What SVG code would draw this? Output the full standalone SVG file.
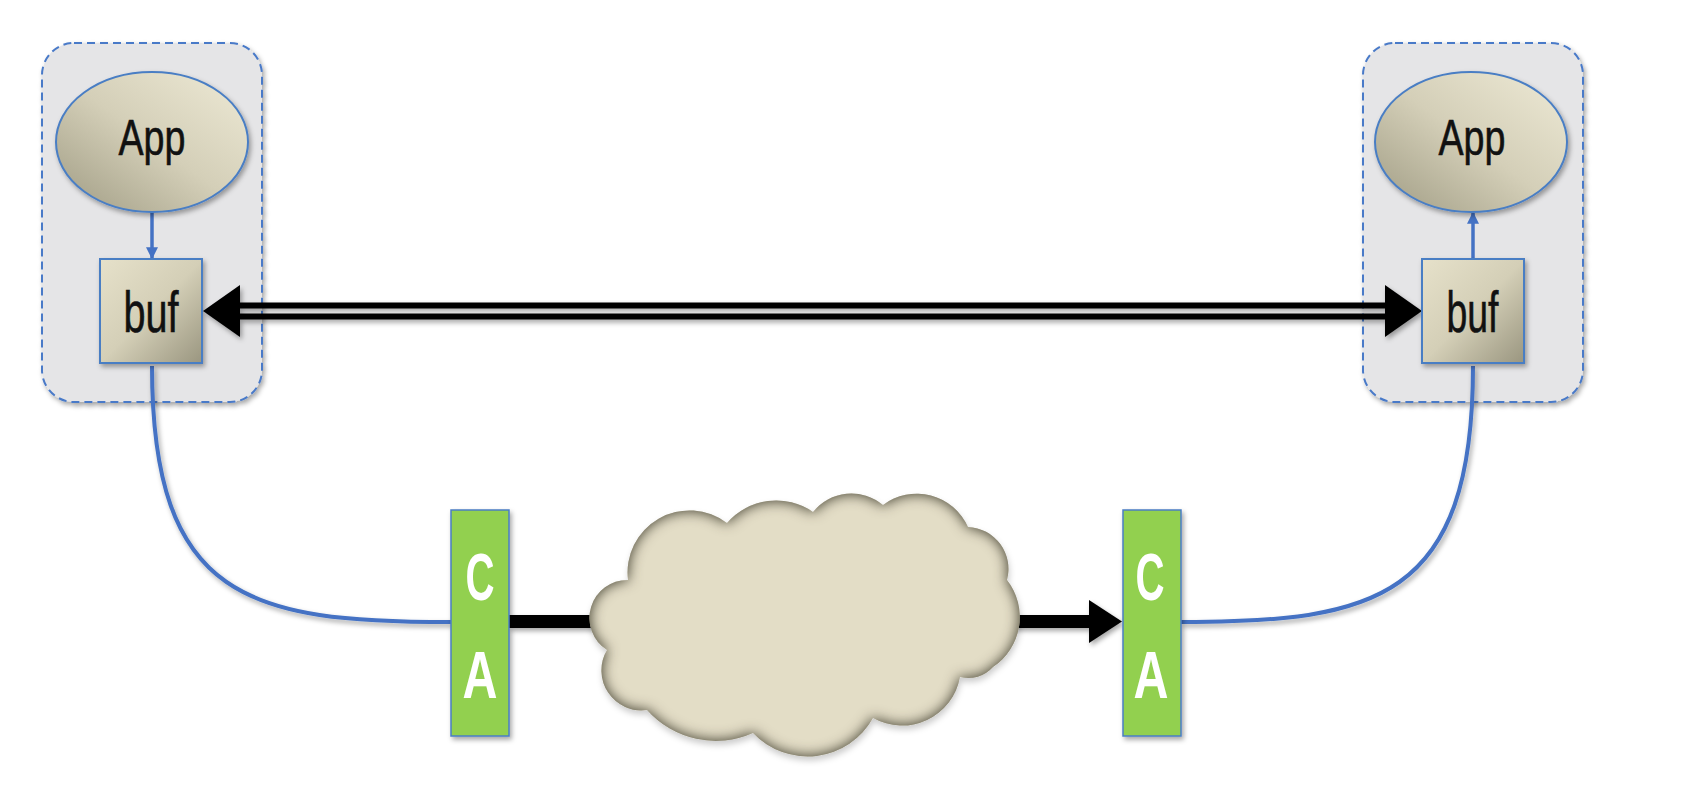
<svg xmlns="http://www.w3.org/2000/svg" width="1686" height="803" viewBox="0 0 1686 803">
<defs>
<style>
.cont{fill:#e5e5e7;stroke:#4a7ac8;stroke-width:2;stroke-dasharray:8 5;}
.node{stroke:#4a7ec4;stroke-width:2;}
.lbl{font-family:"Liberation Sans",Arial,sans-serif;fill:#111;stroke:#111;stroke-width:0.6;text-anchor:middle;}
.ca{fill:#92d050;stroke:#4a7ec4;stroke-width:1.5;}
.cal{font-family:"Liberation Sans",Arial,sans-serif;font-weight:bold;fill:#fff;text-anchor:middle;font-size:66px;}
.blue{fill:none;stroke:#4472c4;stroke-width:4;}
.thin{fill:none;stroke:#4472c4;stroke-width:3.5;}
</style>
<linearGradient id="gEll" x1="1" y1="0" x2="0" y2="1">
<stop offset="0" stop-color="#eeead6"/>
<stop offset="0.5" stop-color="#d4cfb8"/>
<stop offset="1" stop-color="#9f9b83"/>
</linearGradient>
<linearGradient id="gBuf" x1="0" y1="0" x2="1" y2="1">
<stop offset="0" stop-color="#e6e1ca"/>
<stop offset="0.5" stop-color="#d4cfb7"/>
<stop offset="1" stop-color="#9a9680"/>
</linearGradient>
<filter id="sh" x="-20%" y="-20%" width="150%" height="150%">
<feGaussianBlur in="SourceAlpha" stdDeviation="2.5"/>
<feOffset dx="2" dy="3" result="b"/>
<feFlood flood-color="#000" flood-opacity="0.35"/>
<feComposite in2="b" operator="in" result="s"/>
<feMerge><feMergeNode in="s"/><feMergeNode in="SourceGraphic"/></feMerge>
</filter>
<filter id="cloudF" x="-10%" y="-10%" width="120%" height="125%">
<feFlood flood-color="#5a5643" result="fl"/>
<feComposite in="fl" in2="SourceAlpha" operator="out" result="outside"/>
<feGaussianBlur in="outside" stdDeviation="7" result="bl"/>
<feComposite in="bl" in2="SourceAlpha" operator="in" result="inner"/>
<feGaussianBlur in="SourceAlpha" stdDeviation="3"/>
<feOffset dx="1" dy="4" result="ob"/>
<feFlood flood-color="#000" flood-opacity="0.2"/>
<feComposite in2="ob" operator="in" result="outer"/>
<feMerge><feMergeNode in="outer"/><feMergeNode in="SourceGraphic"/><feMergeNode in="inner"/><feMergeNode in="inner"/></feMerge>
</filter>
<marker id="mBlue" viewBox="0 0 10 10" refX="9" refY="5" markerUnits="userSpaceOnUse" markerWidth="12" markerHeight="14" orient="auto">
<path d="M0,0 L10,5 L0,10 z" fill="#4472c4"/>
</marker>
</defs>
<rect width="1686" height="803" fill="#ffffff"/>

<g id="host-left">
<rect class="cont" x="42" y="43" width="220" height="359" rx="32" filter="url(#sh)"/>
</g>
<g id="host-right">
<rect class="cont" x="1363" y="43" width="220" height="359" rx="32" filter="url(#sh)"/>
</g>

<g id="connectors">
<path class="thin" d="M152,212 L152,258" marker-end="url(#mBlue)"/>
<path class="thin" d="M1473,259 L1473,213" marker-end="url(#mBlue)"/>
<g filter="url(#sh)">
<line x1="232" y1="305.5" x2="1392" y2="305.5" stroke="#000" stroke-width="6"/>
<line x1="232" y1="316.5" x2="1392" y2="316.5" stroke="#000" stroke-width="6"/>
<path d="M203,311 L240,285 L240,337 z" fill="#000"/>
<path d="M1422,311 L1385,285 L1385,337 z" fill="#000"/>
</g>
<g filter="url(#sh)">
<path class="blue" d="M152,366 C152,600 250,622 451,622"/>
<path class="blue" d="M1473,366 C1473,600 1375,622 1181,622"/>
<line x1="509" y1="621.5" x2="600" y2="621.5" stroke="#000" stroke-width="13"/>
<line x1="1010" y1="621.5" x2="1092" y2="621.5" stroke="#000" stroke-width="13"/>
<path d="M1122,621.5 L1089,600 L1089,643 z" fill="#000"/>
</g>
</g>

<g id="app-left">
<ellipse class="node" cx="152" cy="142" rx="96" ry="70" fill="url(#gEll)" filter="url(#sh)"/>
<text class="lbl" x="152" y="155" font-size="50" textLength="67" lengthAdjust="spacingAndGlyphs">App</text>
</g>
<g id="buf-left">
<rect class="node" x="100" y="259" width="102" height="104" fill="url(#gBuf)" filter="url(#sh)"/>
<text class="lbl" x="151" y="332" font-size="57" textLength="55" lengthAdjust="spacingAndGlyphs">buf</text>
</g>
<g id="app-right">
<ellipse class="node" cx="1471" cy="142" rx="96" ry="70" fill="url(#gEll)" filter="url(#sh)"/>
<text class="lbl" x="1472" y="155" font-size="50" textLength="67" lengthAdjust="spacingAndGlyphs">App</text>
</g>
<g id="buf-right">
<rect class="node" x="1422" y="259" width="102" height="104" fill="url(#gBuf)" filter="url(#sh)"/>
<text class="lbl" x="1472.5" y="332" font-size="57" textLength="52" lengthAdjust="spacingAndGlyphs">buf</text>
</g>

<g id="ca-left">
<rect class="ca" x="451" y="510" width="58" height="226" filter="url(#sh)"/>
<text class="cal" x="480" y="600" textLength="29" lengthAdjust="spacingAndGlyphs">C</text>
<text class="cal" x="480" y="698" textLength="35" lengthAdjust="spacingAndGlyphs">A</text>
</g>
<g id="ca-right">
<rect class="ca" x="1123" y="510" width="58" height="226" filter="url(#sh)"/>
<text class="cal" x="1150" y="600" textLength="29" lengthAdjust="spacingAndGlyphs">C</text>
<text class="cal" x="1151" y="698" textLength="35" lengthAdjust="spacingAndGlyphs">A</text>
</g>

<g id="cloud">
<path fill="#e3ddc6" filter="url(#cloudF)" d="M628,580 A62,62 0 0 1 727,523 A65,65 0 0 1 813,512 A49,49 0 0 1 883,505 A56,56 0 0 1 968,527 A42,42 0 0 1 1007,580 A60,60 0 0 1 993,667 A33,33 0 0 1 960,677 A59,59 0 0 1 873,718 A75,75 0 0 1 753,733 A92,92 0 0 1 647,710 A40,40 0 0 1 607,650 A38,38 0 0 1 628,580 z"/>
</g>
</svg>
